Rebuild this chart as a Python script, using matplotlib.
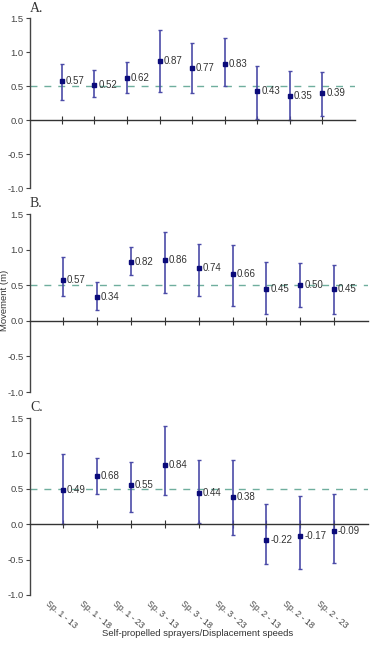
import matplotlib
matplotlib.use("Agg")
import matplotlib.pyplot as plt

# Sprayer / displacement speed combinations
categories = ["Sp. 1 - 13", "Sp. 1 - 18", "Sp. 1 - 23",
              "Sp. 3 - 13", "Sp. 3 - 18", "Sp. 3 - 23",
              "Sp. 2 - 13", "Sp. 2 - 18", "Sp. 2 - 23"]

# Panel A
a_mean = [0.57, 0.52, 0.62, 0.87, 0.77, 0.83, 0.43, 0.35, 0.39]
a_low = [0.30, 0.34, 0.40, 0.41, 0.40, 0.50, 0.01, 0.00, 0.06]
a_high = [0.82, 0.73, 0.85, 1.32, 1.13, 1.21, 0.80, 0.72, 0.70]

# Panel B
b_mean = [0.57, 0.34, 0.82, 0.86, 0.74, 0.66, 0.45, 0.50, 0.45]
b_low = [0.35, 0.15, 0.65, 0.39, 0.35, 0.21, 0.09, 0.19, 0.09]
b_high = [0.89, 0.55, 1.04, 1.25, 1.08, 1.06, 0.82, 0.81, 0.79]

# Panel C
c_mean = [0.49, 0.68, 0.55, 0.84, 0.44, 0.38, -0.22, -0.17, -0.09]
c_low = [0.00, 0.43, 0.17, 0.41, 0.02, -0.15, -0.56, -0.63, -0.55]
c_high = [0.99, 0.94, 0.88, 1.38, 0.91, 0.91, 0.28, 0.40, 0.42]

panel_labels = ["A.", "B.", "C."]
y_ticks = [-1.0, -0.5, 0.0, 0.5, 1.0, 1.5]
ref_level = 0.5

plt.rcParams["font.family"] = ["Liberation Sans", "DejaVu Sans"]

fig = plt.figure(figsize=(3.70, 6.47), dpi=100)
W, H = 370.0, 647.0


def add_axes_px(left, top, right, bottom):
    return fig.add_axes([left / W, 1 - bottom / H, (right - left) / W, (bottom - top) / H])


axes = [
    add_axes_px(30, 18, 355, 188),
    add_axes_px(30, 214, 368, 392),
    add_axes_px(30, 418, 368, 595),
]
panels = [(a_mean, a_low, a_high), (b_mean, b_low, b_high), (c_mean, c_low, c_high)]

x = list(range(1, len(categories) + 1))

for ax, (mean, low, high), lab in zip(axes, panels, panel_labels):
    err = [[m - l for m, l in zip(mean, low)], [h - m for m, h in zip(mean, high)]]
    ax.axhline(ref_level, color="#6fae9e", lw=1.0, ls=(0, (5, 5)), zorder=1)
    ax.errorbar(x, mean, yerr=err, fmt="none", ecolor="#4b4ba8", elinewidth=1.2,
                capsize=1.6, capthick=1.0, zorder=2)
    ax.plot(x, mean, ls="none", marker="s", ms=3.4, color="#0b0b7a", zorder=3)
    for xi, m in zip(x, mean):
        ax.annotate(f"{m:.2f}", xy=(xi, m), xytext=(2.8, 0), textcoords="offset points",
                    ha="left", va="center", fontsize=7, color="#333333")

    ax.set_xlim(0.02, 10.0)
    ax.set_ylim(-1.0, 1.5)
    ax.set_yticks(y_ticks)
    ax.set_yticklabels([f"{t:.1f}" for t in y_ticks])
    ax.tick_params(axis="y", direction="out", length=3, width=0.8, pad=1.5,
                   labelsize=6.8, labelcolor="#444444", color="#444444")

    for s in ["top", "right"]:
        ax.spines[s].set_visible(False)
    ax.spines["left"].set_color("#444444")
    ax.spines["left"].set_linewidth(1.0)
    ax.spines["bottom"].set_position(("data", 0.0))
    ax.spines["bottom"].set_color("#333333")
    ax.spines["bottom"].set_linewidth(1.0)
    ax.set_xticks(x)
    ax.set_xticklabels([])
    ax.tick_params(axis="x", direction="inout", length=6, width=0.8, color="#333333")
    ax.set_facecolor("none")

    ax.text(0.0, 1.02, lab, transform=ax.transAxes, ha="left", va="bottom",
            fontsize=10, family="Liberation Serif", color="#333333")

# category labels under the bottom panel
ax_c = axes[2]
for xi, cat in zip(x, categories):
    ax_c.annotate(cat, xy=(xi, 0), xycoords=("data", "axes fraction"),
                  xytext=(-1.5, -3), textcoords="offset points",
                  ha="center", va="top", rotation=-40, fontsize=6.3, color="#444444")

fig.text(198 / W, 1 - 633 / H, "Self-propelled sprayers/Displacement speeds",
         ha="center", va="center", fontsize=6.8, color="#333333")
fig.text(5 / W, 1 - 300 / H, "Movement (m)", rotation=90, ha="center", va="center",
         fontsize=6.8, color="#333333")

fig.savefig("out.png", dpi=100)
